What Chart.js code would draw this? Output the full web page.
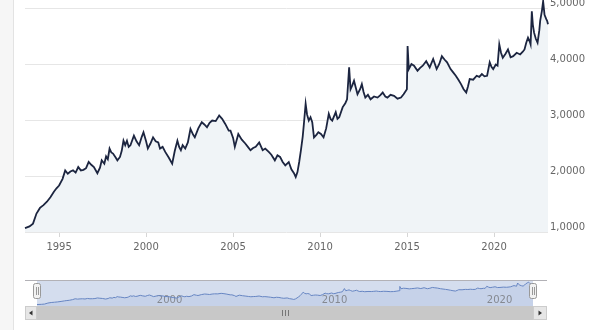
<!DOCTYPE html>
<html>
<head>
<meta charset="utf-8">
<script src="https://cdn.jsdelivr.net/npm/chart.js@4.4.0/dist/chart.umd.min.js"></script>
<style>
html, body { margin: 0; padding: 0; background: #fff; }
#wrap { position: relative; width: 600px; height: 330px; overflow: hidden; }
#side { position: absolute; left: 0; top: 0; width: 13px; height: 330px; background: #f6f6f6; border-right: 1px solid #e3e3e3; }
#main { position: absolute; left: 0; top: 0; }
#nav { position: absolute; left: 0; top: 270px; }
</style>
</head>
<body>
<div id="wrap">
    <div id="side"></div>
    <canvas id="main" width="600" height="262"></canvas>
    <canvas id="nav" width="600" height="60"></canvas>
</div>
<script>
var years = [
    1993.04, 1993.3, 1993.5, 1993.7, 1993.9, 1994.1, 1994.3, 1994.5, 1994.7, 1994.85,
    1995.0, 1995.2, 1995.35, 1995.5, 1995.65, 1995.8, 1995.95, 1996.1, 1996.25, 1996.4,
    1996.55, 1996.7, 1996.85, 1997.0, 1997.2, 1997.35, 1997.45, 1997.6, 1997.7, 1997.8,
    1997.9, 1998.0, 1998.1, 1998.25, 1998.35, 1998.5, 1998.6, 1998.7, 1998.8, 1998.9,
    1999.0, 1999.1, 1999.3, 1999.45, 1999.6, 1999.75, 1999.85, 2000.0, 2000.1, 2000.25,
    2000.4, 2000.55, 2000.7, 2000.8, 2000.95, 2001.1, 2001.3, 2001.5, 2001.65, 2001.8,
    2001.9, 2002.0, 2002.1, 2002.25, 2002.4, 2002.55, 2002.7, 2002.8, 2003.0, 2003.2,
    2003.35, 2003.5, 2003.65, 2003.8, 2004.0, 2004.2, 2004.37, 2004.55, 2004.75, 2004.85,
    2005.0, 2005.1, 2005.3, 2005.5, 2005.7, 2005.85, 2006.0, 2006.15, 2006.3, 2006.5,
    2006.7, 2006.85, 2007.05, 2007.2, 2007.4, 2007.55, 2007.7, 2007.85, 2008.0, 2008.2,
    2008.35, 2008.5, 2008.6, 2008.7, 2008.8, 2008.9, 2009.0, 2009.07, 2009.17, 2009.25,
    2009.35, 2009.45, 2009.55, 2009.65, 2009.8, 2009.9, 2010.05, 2010.2, 2010.35, 2010.5,
    2010.6, 2010.7, 2010.9, 2011.0, 2011.1, 2011.3, 2011.45, 2011.55, 2011.62, 2011.67,
    2011.75, 2011.85, 2011.95, 2012.05, 2012.15, 2012.3, 2012.4, 2012.5, 2012.6, 2012.75,
    2012.9, 2013.1, 2013.3, 2013.45, 2013.6, 2013.75, 2013.87, 2014.05, 2014.25, 2014.45,
    2014.65, 2014.8, 2014.99, 2015.03, 2015.1, 2015.25, 2015.4, 2015.6, 2015.75, 2015.9,
    2016.1, 2016.3, 2016.5, 2016.7, 2016.85, 2017.0, 2017.15, 2017.3, 2017.5, 2017.65,
    2017.8, 2017.95, 2018.1, 2018.25, 2018.4, 2018.5, 2018.6, 2018.8, 2019.0, 2019.15,
    2019.3, 2019.45, 2019.6, 2019.75, 2019.85, 2019.95, 2020.1, 2020.2, 2020.3, 2020.4,
    2020.5, 2020.65, 2020.8, 2020.95, 2021.1, 2021.3, 2021.5, 2021.65, 2021.75, 2021.85,
    2021.95, 2022.05, 2022.1, 2022.17, 2022.23, 2022.3, 2022.4, 2022.5, 2022.6, 2022.65,
    2022.75, 2022.82, 2022.9, 2023.0, 2023.05, 2023.1
];
var rates = [
    1.07, 1.10, 1.15, 1.33, 1.43, 1.48, 1.54, 1.62, 1.72, 1.78,
    1.83, 1.95, 2.10, 2.04, 2.08, 2.10, 2.06, 2.16, 2.10, 2.11,
    2.14, 2.25, 2.20, 2.16, 2.05, 2.15, 2.28, 2.22, 2.35, 2.30,
    2.49, 2.42, 2.40, 2.33, 2.28, 2.34, 2.45, 2.63, 2.55, 2.63,
    2.52, 2.55, 2.72, 2.62, 2.55, 2.70, 2.78, 2.62, 2.49, 2.58,
    2.69, 2.62, 2.60, 2.49, 2.52, 2.43, 2.33, 2.22, 2.45, 2.63,
    2.52, 2.46, 2.55, 2.49, 2.60, 2.84, 2.74, 2.69, 2.85, 2.96,
    2.92, 2.87, 2.95, 2.99, 2.98, 3.08, 3.02, 2.93, 2.81, 2.81,
    2.68, 2.52, 2.75, 2.65, 2.58, 2.52, 2.46, 2.50, 2.52, 2.60,
    2.46, 2.49, 2.43, 2.38, 2.28, 2.37, 2.34, 2.25, 2.19, 2.25,
    2.12, 2.05, 1.98, 2.07, 2.25, 2.46, 2.70, 2.93, 3.29, 3.10,
    2.99, 3.05, 2.96, 2.69, 2.74, 2.78, 2.75, 2.69, 2.85, 3.11,
    3.02, 2.99, 3.14, 3.02, 3.05, 3.23, 3.30, 3.37, 3.70, 3.94,
    3.55, 3.62, 3.70, 3.58, 3.46, 3.55, 3.64, 3.50, 3.40, 3.45,
    3.37, 3.42, 3.40, 3.44, 3.49, 3.42, 3.40, 3.45, 3.43, 3.38,
    3.40, 3.46, 3.55, 4.32, 3.91, 4.00, 3.97, 3.88, 3.93, 3.97,
    4.05, 3.94, 4.09, 3.91, 4.00, 4.14, 4.08, 4.03, 3.91, 3.85,
    3.79, 3.72, 3.64, 3.55, 3.49, 3.60, 3.73, 3.72, 3.79, 3.77,
    3.82, 3.78, 3.79, 4.03, 3.95, 3.91, 3.99, 3.97, 4.35, 4.20,
    4.11, 4.18, 4.26, 4.12, 4.14, 4.20, 4.17, 4.22, 4.26, 4.38,
    4.47, 4.40, 4.35, 4.94, 4.70, 4.56, 4.45, 4.38, 4.60, 4.77,
    4.95, 5.12, 4.88, 4.80, 4.77, 4.71
];
var xTicks = [1995, 2000, 2005, 2010, 2015, 2020];
var yTicks = [1, 2, 3, 4, 5];
var navTicks = [2000, 2010, 2020];

var xMin = 1993.04, xMax = 2023.1;
var points = years.map(function (y, i) { return { x: y, y: rates[i] }; });
var font = { family: 'DejaVu Sans', size: 10 };

new Chart(document.getElementById('main'), {
    type: 'line',
    data: {
        datasets: [{
            data: points,
            borderColor: '#1c2540',
            borderWidth: 1.8,
            pointRadius: 0,
            tension: 0,
            fill: 'start',
            backgroundColor: '#f0f4f7',
            clip: false
        }]
    },
    options: {
        responsive: false,
        animation: false,
        layout: { padding: { left: 25, top: 7, right: 0, bottom: 0 } },
        plugins: { legend: { display: false }, tooltip: { enabled: false } },
        scales: {
            x: {
                type: 'linear', min: xMin, max: xMax,
                afterBuildTicks: function (s) { s.ticks = xTicks.map(function (v) { return { value: v }; }); },
                afterFit: function (s) { s.height = 30; },
                grid: { drawOnChartArea: false, tickLength: 5, color: '#d6d6d6' },
                border: { display: false },
                ticks: { padding: 4, color: '#666', font: font, maxRotation: 0, callback: function (v) { return String(v); } }
            },
            y: {
                position: 'right', min: 1, max: 5,
                afterBuildTicks: function (s) { s.ticks = yTicks.map(function (v) { return { value: v }; }); },
                afterFit: function (s) { s.width = 52; },
                grid: { color: '#e6e6e6', drawTicks: false },
                border: { display: false },
                ticks: { padding: 2, labelOffset: -5, color: '#666', font: font,
                    callback: function (v) { return v.toFixed(4).replace('.', ','); } }
            }
        }
    }
});

// navigator look: selection band, labels, handles, scrollbar
var navDecor = {
    id: 'navDecor',
    beforeDatasetsDraw: function (chart) {
        var ctx = chart.ctx, a = chart.chartArea;
        ctx.save();
        ctx.fillStyle = 'rgba(102,133,194,0.28)';
        ctx.fillRect(a.left, a.top, a.right - a.left, a.bottom - a.top);
        ctx.strokeStyle = '#b2b1b6';
        ctx.lineWidth = 1;
        ctx.beginPath();
        ctx.moveTo(25, a.top - 0.5);
        ctx.lineTo(547, a.top - 0.5);
        ctx.stroke();
        ctx.fillStyle = '#8a8a8a';
        ctx.font = '10px "DejaVu Sans"';
        ctx.textAlign = 'left';
        ctx.textBaseline = 'middle';
        navTicks.forEach(function (t) {
            ctx.fillText(String(t), chart.scales.x.getPixelForValue(t) + 5, 30);
        });
        ctx.restore();
    },
    afterDatasetsDraw: function (chart) {
        var ctx = chart.ctx, a = chart.chartArea;
        var top = a.bottom, h = 14;
        ctx.save();
        ctx.lineWidth = 1;
        // scrollbar track and thumb
        ctx.fillStyle = '#eeeeee';
        ctx.fillRect(25, top, 522, h);
        ctx.fillStyle = '#c8c8c8';
        ctx.fillRect(a.left, top, a.right - a.left, h);
        var cx = Math.round((a.left + a.right) / 2);
        ctx.strokeStyle = '#777';
        [-3, 0, 3].forEach(function (d) {
            ctx.beginPath();
            ctx.moveTo(cx + d + 0.5, top + 4);
            ctx.lineTo(cx + d + 0.5, top + 10);
            ctx.stroke();
        });
        // buttons
        [[25, a.left, -1], [a.right, 547, 1]].forEach(function (b) {
            ctx.fillStyle = '#e6e6e6';
            ctx.strokeStyle = '#cccccc';
            ctx.fillRect(b[0], top, b[1] - b[0], h);
            ctx.strokeRect(b[0] + 0.5, top + 0.5, b[1] - b[0] - 1, h - 1);
            var mx = (b[0] + b[1]) / 2, my = top + h / 2;
            ctx.fillStyle = '#333';
            ctx.beginPath();
            ctx.moveTo(mx + 2 * b[2], my);
            ctx.lineTo(mx - 1.5 * b[2], my - 2.5);
            ctx.lineTo(mx - 1.5 * b[2], my + 2.5);
            ctx.closePath();
            ctx.fill();
        });
        // handles
        [a.left, a.right].forEach(function (x) {
            ctx.fillStyle = '#f2f2f2';
            ctx.strokeStyle = '#999';
            ctx.beginPath();
            ctx.roundRect(Math.round(x) - 3.5, a.top + 2.5, 7, 15, 2);
            ctx.fill();
            ctx.stroke();
            ctx.strokeStyle = '#999';
            [-1, 1].forEach(function (d) {
                ctx.beginPath();
                ctx.moveTo(Math.round(x) + d + 0.5, a.top + 6);
                ctx.lineTo(Math.round(x) + d + 0.5, a.top + 14);
                ctx.stroke();
            });
        });
        ctx.restore();
    }
};

new Chart(document.getElementById('nav'), {
    type: 'line',
    data: {
        datasets: [{
            data: points,
            borderColor: '#6685c2',
            borderWidth: 1,
            pointRadius: 0,
            tension: 0,
            fill: 'start',
            backgroundColor: 'rgba(102,133,194,0.12)'
        }]
    },
    options: {
        responsive: false,
        animation: false,
        layout: { padding: { left: 37, right: 67, top: 11, bottom: 24 } },
        plugins: { legend: { display: false }, tooltip: { enabled: false } },
        scales: {
            x: { type: 'linear', display: false, min: xMin, max: xMax },
            y: { display: false, min: 0.8, max: 5.3 }
        }
    },
    plugins: [navDecor]
});
</script>
</body>
</html>
